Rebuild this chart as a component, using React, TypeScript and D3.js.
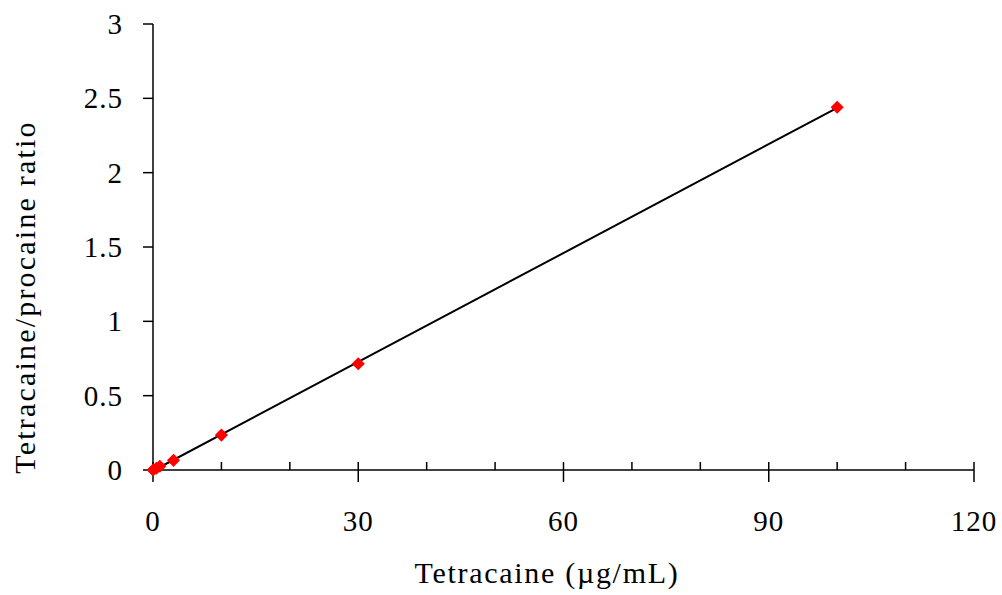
import React from "react";
import * as d3 from "d3";

const xValues = [0, 0.5, 1, 3, 10, 30, 100];
const yValues = [0, 0.012, 0.025, 0.065, 0.235, 0.715, 2.44];
const xTicks = [0, 30, 60, 90, 120];
const xMinorTicks = [10, 20, 40, 50, 70, 80, 100, 110];
const yTicks = [0, 0.5, 1, 1.5, 2, 2.5, 3];
const xTitle = "Tetracaine (\u00b5g/mL)";
const yTitle = "Tetracaine/procaine ratio";

const W = 1002;
const H = 595;
const FONT = "'Liberation Serif', 'Times New Roman', serif";

export default function App() {
  const x = d3.scaleLinear().domain([0, 120]).range([153, 974]);
  const y = d3.scaleLinear().domain([0, 3]).range([470, 24]);

  const pts = xValues.map((v, i) => ({ x: v, y: yValues[i] }));
  const mx = d3.mean(xValues)!;
  const my = d3.mean(yValues)!;
  const slope =
    d3.sum(pts, (p) => (p.x - mx) * (p.y - my)) /
    d3.sum(pts, (p) => (p.x - mx) * (p.x - mx));
  const intercept = my - slope * mx;
  const x0 = d3.min(xValues)!;
  const x1 = d3.max(xValues)!;
  const line = d3
    .line<number>()
    .x((d) => x(d))
    .y((d) => y(intercept + slope * d));

  const diamond = d3.symbol().type(d3.symbolDiamond2).size(110)();

  return (
    <svg
      width={W}
      height={H}
      style={{ position: "absolute", left: 0, top: 0, background: "#fff" }}
      fontFamily={FONT}
    >
      {/* y axis */}
      <line x1={x(0)} x2={x(0)} y1={y(3)} y2={y(0)} stroke="#000" strokeWidth={1.5} />
      {yTicks.map((t) => (
        <g key={"y" + t}>
          <line x1={x(0) - 10} x2={x(0)} y1={y(t)} y2={y(t)} stroke="#000" strokeWidth={1.5} />
          <text
            x={123}
            y={y(t)}
            textAnchor="end"
            dominantBaseline="central"
            fontSize={29}
            letterSpacing={1}
            fill="#000"
          >
            {String(t)}
          </text>
        </g>
      ))}
      {/* x axis */}
      <line x1={x(0)} x2={x(120)} y1={y(0)} y2={y(0)} stroke="#000" strokeWidth={1.5} />
      {xMinorTicks.map((t) => (
        <line key={"xm" + t} x1={x(t)} x2={x(t)} y1={y(0) - 8} y2={y(0)} stroke="#000" strokeWidth={1.5} />
      ))}
      {xTicks.map((t) => (
        <g key={"x" + t}>
          <line x1={x(t)} x2={x(t)} y1={y(0) - 8} y2={y(0) + 12} stroke="#000" strokeWidth={1.5} />
          <text
            x={x(t)}
            y={531}
            textAnchor="middle"
            fontSize={29}
            letterSpacing={1}
            fill="#000"
          >
            {String(t)}
          </text>
        </g>
      ))}
      {/* trend line */}
      <path d={line([x0, x1]) || ""} fill="none" stroke="#000" strokeWidth={2} />
      {/* markers */}
      {pts.map((p, i) => (
        <path
          key={"p" + i}
          d={diamond || ""}
          transform={`translate(${x(p.x)},${y(p.y)})`}
          fill="#ff0000"
        />
      ))}
      {/* titles */}
      <text x={547} y={583} textAnchor="middle" fontSize={30} letterSpacing={1.7} fill="#000">
        {xTitle}
      </text>
      <text
        transform={`translate(35,297) rotate(-90)`}
        textAnchor="middle"
        fontSize={30}
        letterSpacing={2.2}
        fill="#000"
      >
        {yTitle}
      </text>
    </svg>
  );
}
